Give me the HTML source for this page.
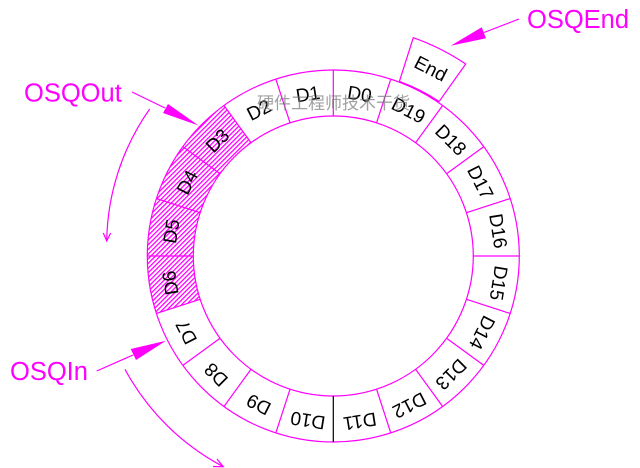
<!DOCTYPE html>
<html><head><meta charset="utf-8"><style>
html,body{margin:0;padding:0;background:#fff}
svg{display:block}
.t{font:19px "Liberation Sans",sans-serif;fill:#000;text-anchor:middle}
.l{font:25.5px "Liberation Sans",sans-serif;fill:#f0f}
.s{stroke:#f0f;stroke-width:1.2;fill:none}
</style></head><body>
<svg width="640" height="468" viewBox="0 0 640 468" xmlns="http://www.w3.org/2000/svg">
<defs><pattern id="h" width="3.3" height="3.3" patternUnits="userSpaceOnUse" patternTransform="rotate(-45)"><rect width="3.3" height="1.3" fill="#f0f"/></pattern></defs>
<path d="M223.97 105.53A186 186 0 0 0 156.4 313.5L200.1 299.3A140 140 0 0 1 251 142.74Z" fill="url(#h)"/>
<circle class="s" cx="333.3" cy="256" r="186"/>
<circle class="s" cx="333.3" cy="256" r="140"/>
<g class="s">
<line x1="333.3" y1="70" x2="333.3" y2="116"/>
<line x1="333.3" y1="70" x2="333.3" y2="116" transform="rotate(18 333.3 256)"/>
<line x1="333.3" y1="70" x2="333.3" y2="116" transform="rotate(36 333.3 256)"/>
<line x1="333.3" y1="70" x2="333.3" y2="116" transform="rotate(54 333.3 256)"/>
<line x1="333.3" y1="70" x2="333.3" y2="116" transform="rotate(72 333.3 256)"/>
<line x1="333.3" y1="70" x2="333.3" y2="116" transform="rotate(90 333.3 256)"/>
<line x1="333.3" y1="70" x2="333.3" y2="116" transform="rotate(108 333.3 256)"/>
<line x1="333.3" y1="70" x2="333.3" y2="116" transform="rotate(126 333.3 256)"/>
<line x1="333.3" y1="70" x2="333.3" y2="116" transform="rotate(144 333.3 256)"/>
<line x1="333.3" y1="70" x2="333.3" y2="116" transform="rotate(162 333.3 256)"/>
<line x1="333.3" y1="70" x2="333.3" y2="116" transform="rotate(198 333.3 256)"/>
<line x1="333.3" y1="70" x2="333.3" y2="116" transform="rotate(216 333.3 256)"/>
<line x1="333.3" y1="70" x2="333.3" y2="116" transform="rotate(234 333.3 256)"/>
<line x1="333.3" y1="70" x2="333.3" y2="116" transform="rotate(252 333.3 256)"/>
<line x1="333.3" y1="70" x2="333.3" y2="116" transform="rotate(270 333.3 256)"/>
<line x1="333.3" y1="70" x2="333.3" y2="116" transform="rotate(288 333.3 256)"/>
<line x1="333.3" y1="70" x2="333.3" y2="116" transform="rotate(306 333.3 256)"/>
<line x1="333.3" y1="70" x2="333.3" y2="116" transform="rotate(324 333.3 256)"/>
<line x1="333.3" y1="70" x2="333.3" y2="116" transform="rotate(342 333.3 256)"/>
</g>
<line x1="333.3" y1="396" x2="333.3" y2="442" stroke="#000" stroke-width="1.2"/>
<g class="t" transform="translate(0.5 1)">
<text x="333.3" y="97.5" transform="rotate(9 333.3 256)">D0</text>
<text x="333.3" y="97.5" transform="rotate(-9 333.3 256)">D1</text>
<text x="333.3" y="97.5" transform="rotate(-27 333.3 256)">D2</text>
<text x="333.3" y="98" transform="rotate(-45 333.3 256)">D3</text>
<text x="333.3" y="98" transform="rotate(-63 333.3 256)">D4</text>
<text x="333.3" y="98" transform="rotate(-81 333.3 256)">D5</text>
<text x="333.3" y="97" transform="rotate(-99 333.3 256)">D6</text>
<text x="333.3" y="97" transform="rotate(-117 333.3 256)">D7</text>
<text x="333.3" y="96" transform="rotate(-135 333.3 256)">D8</text>
<text x="333.3" y="97" transform="rotate(-153 333.3 256)">D9</text>
<text x="333.3" y="97" transform="rotate(-171 333.3 256)">D10</text>
<text x="333.3" y="96" transform="rotate(171 333.3 256)">D11</text>
<text x="333.3" y="96" transform="rotate(153 333.3 256)">D12</text>
<text x="333.3" y="96.5" transform="rotate(135 333.3 256)">D13</text>
<text x="333.3" y="96" transform="rotate(117 333.3 256)">D14</text>
<text x="333.3" y="95.5" transform="rotate(99 333.3 256)">D15</text>
<text x="333.3" y="96" transform="rotate(81 333.3 256)">D16</text>
<text x="333.3" y="98" transform="rotate(63 333.3 256)">D17</text>
<text x="333.3" y="97" transform="rotate(45 333.3 256)">D18</text>
<text x="333.3" y="98" transform="rotate(27 333.3 256)">D19</text>
<text x="430" y="74" transform="rotate(27 430 68)">End</text>
</g>
<path class="s" d="M399.3 81.7L413.3 37.7A233 233 0 0 1 465.7 64L439 101.7"/>
<path d="M399.3 81.7A186 186 0 0 1 439 101.7" stroke="#f0f" stroke-width="1.8" fill="none"/>
<line class="s" x1="519" y1="19" x2="484" y2="32.5"/>
<polygon points="450.7,45.7 481.7,27.3 486,38.3" fill="#f0f"/>
<line class="s" x1="132" y1="92" x2="165" y2="108"/>
<polygon points="198.5,125.5 168,104 163,113" fill="#f0f"/>
<line class="s" x1="96.7" y1="371" x2="133" y2="355"/>
<polygon points="166,340.7 130.7,349 136,360" fill="#f0f"/>
<path class="s" d="M149.7 109A235 235 0 0 0 106.7 241"/>
<path class="s" d="M103.3 233L106.7 241L110.7 233"/>
<path class="s" d="M125 369.3A237 237 0 0 0 223.3 466.7"/>
<path class="s" d="M217 459L223.3 466.7L213 466.5"/>
<text class="l" x="527" y="28">OSQEnd</text>
<text class="l" x="24" y="101.5">OSQOut</text>
<text class="l" x="10" y="380">OSQIn</text>
<text x="257" y="109" style="font:17px 'Noto Sans CJK SC','Liberation Sans',sans-serif;fill:#777;fill-opacity:.7">硬件工程师技术干货</text>
</svg>
</body></html>
